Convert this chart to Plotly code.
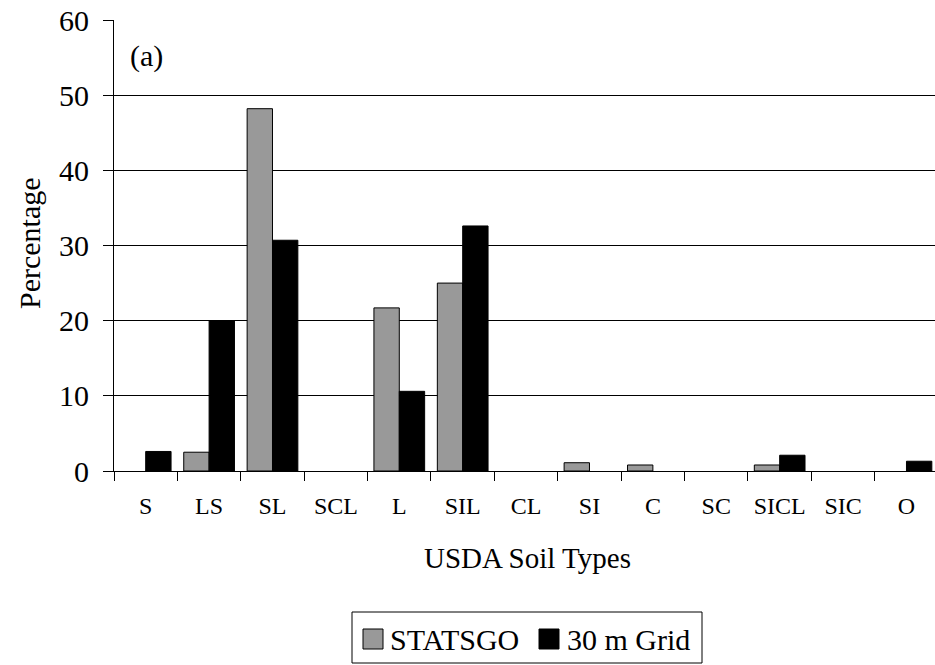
import plotly.graph_objects as go

# Soil texture classes and their share of area (%)
soil_types = ["S", "LS", "SL", "SCL", "L", "SIL", "CL", "SI", "C", "SC", "SICL", "SIC", "O"]
statsgo = [0, 2.5, 48.2, 0, 21.7, 25.0, 0, 1.1, 0.8, 0, 0.8, 0, 0]
grid_30m = [2.6, 20.0, 30.7, 0, 10.6, 32.6, 0, 0, 0, 0, 2.1, 0, 1.3]
y_ticks = [0, 10, 20, 30, 40, 50, 60]
series_names = ["STATSGO", "30 m Grid"]
series_colors = ["#999999", "#000000"]

FONT = "Liberation Serif"

# page geometry (pixels) used to place the hand-built legend and titles
W, H = 935, 665
L, R, T, B = 114, 0, 20, 194
PW, PH = W - L - R, H - T - B


def px(x):
    return (x - L) / PW


def py(y):
    return (H - B - y) / PH


def outline(values):
    # no outline on empty classes, so nothing is drawn along the baseline
    return [0 if v == 0 else 1 for v in values]


fig = go.Figure()
for name, vals, col in zip(series_names, [statsgo, grid_30m], series_colors):
    fig.add_trace(go.Bar(
        x=soil_types, y=vals, name=name,
        marker=dict(color=col, line=dict(color="black", width=outline(vals))),
    ))

# legend box drawn by hand so the swatches are full-size squares
shapes = [dict(type="rect", xref="paper", yref="paper",
               x0=px(352), x1=px(702), y0=py(612), y1=py(663),
               line=dict(color="black", width=1), fillcolor="white")]
annotations = []
legend_items = [(363, 390), (539, 567)]
for (sx, tx), name, col in zip(legend_items, series_names, series_colors):
    shapes.append(dict(type="rect", xref="paper", yref="paper",
                       x0=px(sx), x1=px(sx + 20), y0=py(629), y1=py(649),
                       line=dict(color="black", width=1), fillcolor=col))
    annotations.append(dict(text=name, xref="paper", yref="paper",
                            x=px(tx - 2), y=py(639), xanchor="left", yanchor="middle",
                            showarrow=False, font=dict(family=FONT, size=30, color="black")))

annotations += [
    dict(text="(a)", xref="paper", yref="paper", x=px(128), y=py(56),
         xanchor="left", yanchor="middle", showarrow=False,
         font=dict(family=FONT, size=30, color="black")),
    dict(text="Percentage", xref="paper", yref="paper", x=px(29), y=py(243),
         xanchor="center", yanchor="middle", textangle=-90, showarrow=False,
         font=dict(family=FONT, size=30, color="black")),
    dict(text="USDA Soil Types", xref="paper", yref="paper", x=px(527), y=py(558),
         xanchor="center", yanchor="middle", showarrow=False,
         font=dict(family=FONT, size=29, color="black")),
]

fig.update_layout(
    width=W, height=H,
    margin=dict(l=L, r=R, t=T, b=B),
    paper_bgcolor="white", plot_bgcolor="white",
    font=dict(family=FONT, color="black"),
    barmode="group", bargap=0.2, bargroupgap=0,
    showlegend=False,
    xaxis=dict(
        type="category", range=[-0.5, 12.45],
        showline=True, linecolor="black", linewidth=1,
        ticks="outside", tickson="boundaries", ticklen=9, tickcolor="black",
        tickfont=dict(family=FONT, size=24, color="black"),
        ticklabelstandoff=13,
        showgrid=False,
    ),
    yaxis=dict(
        range=[0, 60], tickvals=y_ticks,
        showline=True, linecolor="black", linewidth=1,
        ticks="outside", ticklen=10, tickcolor="black",
        showgrid=True, gridcolor="black", gridwidth=1,
        zeroline=False,
        tickfont=dict(family=FONT, size=30, color="black"),
        ticklabelstandoff=8,
    ),
    shapes=shapes,
    annotations=annotations,
)

fig.write_html("out.html")
